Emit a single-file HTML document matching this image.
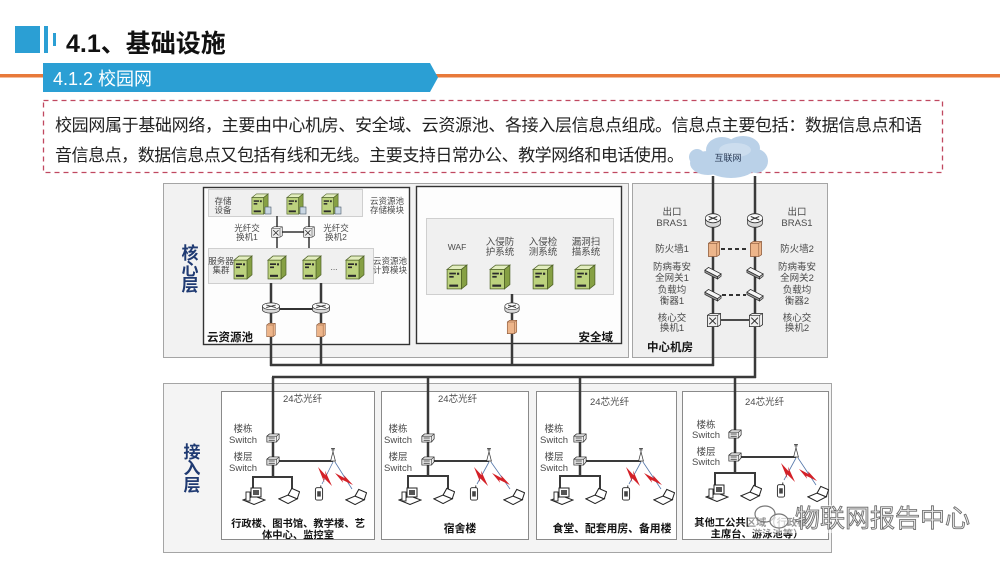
<!DOCTYPE html>
<html><head><meta charset="utf-8">
<style>
html,body{margin:0;padding:0;background:#fff;}
body{width:1000px;height:562px;overflow:hidden;}
svg{display:block;}
text{font-family:"Liberation Sans","Noto Sans CJK SC",sans-serif;}
.s{font-size:8.5px;fill:#4a4a4a;}
.m{font-size:9.5px;fill:#4a4a4a;}
.b{font-size:11.5px;font-weight:bold;fill:#151515;}
.bl{font-size:10.8px;font-weight:bold;fill:#151515;}
.bs{font-size:10.3px;font-weight:bold;fill:#151515;}
.v{font-size:17px;font-weight:bold;fill:#1F3A72;}
</style></head><body>
<svg width="1000" height="562" viewBox="0 0 1000 562" xmlns="http://www.w3.org/2000/svg">
<defs>
 <symbol id="srv" viewBox="0 0 20 24" preserveAspectRatio="none">
  <polygon points="1,5 6,1 19,1 14,5" fill="#E2EDBE" stroke="#4f6228" stroke-width="0.7"/>
  <polygon points="14,5 19,1 19,19 14,23" fill="#86A044" stroke="#4f6228" stroke-width="0.7"/>
  <rect x="1" y="5" width="13" height="18" fill="#BCD27E" stroke="#4f6228" stroke-width="0.7"/>
  <rect x="3" y="8" width="6" height="1.6" fill="#2b2b2b"/>
  <rect x="3" y="11" width="4" height="1.6" fill="#2b2b2b"/>
  <rect x="10" y="8" width="2" height="2" fill="#2b2b2b"/>
  <rect x="3" y="19" width="8" height="2" fill="#2b2b2b"/>
 </symbol>
 <symbol id="rt" viewBox="0 0 20 14" preserveAspectRatio="none">
  <path d="M1,5 V9 A9,4 0 0 0 19,9 V5" fill="#d8d8d8" stroke="#333" stroke-width="0.8"/>
  <ellipse cx="10" cy="5" rx="9" ry="4" fill="#fafafa" stroke="#333" stroke-width="0.8"/>
  <path d="M5,3.5 L15,6.5 M5,6.5 L15,3.5" stroke="#333" stroke-width="1"/>
 </symbol>
 <symbol id="sw" viewBox="0 0 16 10" preserveAspectRatio="none">
  <polygon points="1,3 4,0.5 15,0.5 15,6 12,9.5 1,9.5" fill="#eee" stroke="#222" stroke-width="0.8"/>
  <path d="M1,3 H12 L15,0.5 M12,3 V9.5" fill="none" stroke="#222" stroke-width="0.6"/>
  <path d="M3,5 h7 M3,7.5 h7" stroke="#222" stroke-width="0.8"/>
 </symbol>
 <symbol id="cs" viewBox="0 0 16 16" preserveAspectRatio="none">
  <polygon points="1,3 4,1 15,1 15,13 12,15 1,15" fill="#eee" stroke="#222" stroke-width="0.8"/>
  <path d="M1,3 H12 L15,1 M12,3 V15" fill="none" stroke="#222" stroke-width="0.6"/>
  <path d="M3,5.5 L10,12.5 M10,5.5 L3,12.5" stroke="#222" stroke-width="1"/>
 </symbol>
 <symbol id="fw" viewBox="0 0 14 18" preserveAspectRatio="none">
  <polygon points="1,3 4,1 13,1 13,15 10,17 1,17" fill="#EDB58A" stroke="#8B5A3C" stroke-width="0.8"/>
  <path d="M1,3 H10 L13,1 M10,3 V17" fill="none" stroke="#8B5A3C" stroke-width="0.6"/>
 </symbol>
 <symbol id="bar" viewBox="0 0 20 14" preserveAspectRatio="none">
  <polygon points="1,4 1,6.5 15,13.5 15,11" fill="#999" stroke="#222" stroke-width="0.7"/>
  <polygon points="1,4 5,1 19,8 15,11" fill="#f6f6f6" stroke="#222" stroke-width="0.8"/>
  <polygon points="15,11 19,8 19,10.5 15,13.5" fill="#bbb" stroke="#222" stroke-width="0.7"/>
 </symbol>
 <symbol id="pc" viewBox="0 0 24 18" preserveAspectRatio="none">
  <polygon points="1,13 12,9 23,13 12,17.5" fill="#fff" stroke="#222" stroke-width="1"/>
  <rect x="9" y="1" width="10" height="9" fill="#fff" stroke="#222" stroke-width="1"/>
  <rect x="11" y="3" width="6" height="5" fill="#555"/>
  <rect x="4" y="5" width="4" height="9" fill="#fff" stroke="#222" stroke-width="0.9"/>
 </symbol>
 <symbol id="lt" viewBox="0 0 24 18" preserveAspectRatio="none">
  <polygon points="1,12 11,8 21,12 11,17" fill="#fff" stroke="#222" stroke-width="1.1"/>
  <polygon points="11,8 15,1 23.5,4.5 21,12" fill="#fff" stroke="#222" stroke-width="1.1"/>
 </symbol>
 <symbol id="ph" viewBox="0 0 10 18" preserveAspectRatio="none">
  <rect x="1" y="3" width="8" height="14" rx="2" fill="#fff" stroke="#222" stroke-width="1"/>
  <rect x="3" y="7" width="4" height="6" fill="#444"/>
  <path d="M7,3 V0.5" stroke="#222" stroke-width="1"/>
 </symbol>
 <symbol id="ap" viewBox="0 0 10 16" preserveAspectRatio="none">
  <polygon points="5,5 8,15 2,15" fill="#fff" stroke="#333" stroke-width="0.9"/>
  <path d="M5,5 V1.5 M2.5,1.5 h5 M3,3 h4" stroke="#333" stroke-width="0.8"/>
 </symbol>
 <symbol id="bolt" viewBox="0 0 20 16" preserveAspectRatio="none">
  <polygon points="0,0 11,7 10,3 20,16 8,9 9,13" fill="#D42027"/>
 </symbol>
</defs>

<!-- Header -->
<rect x="15" y="26" width="25" height="27" fill="#2B9FD4"/>
<rect x="44" y="26" width="4" height="27" fill="#2B9FD4"/>
<rect x="53" y="33" width="3" height="13" fill="#2B9FD4"/>
<text x="66" y="52" style="font-size:25px;font-weight:bold;fill:#111;">4.1、基础设施</text>
<rect x="0" y="74" width="1000" height="3.5" fill="#E8793A"/>
<polygon points="43,63 430,63 438,77.5 430,92 43,92" fill="#2B9FD4"/>
<text x="53" y="85" style="font-size:18px;fill:#fff;">4.1.2 校园网</text>

<!-- Dashed text box -->
<rect x="43.5" y="100.5" width="899" height="72" fill="none" stroke="#C04860" stroke-width="1.3" stroke-dasharray="5,4"/>
<text x="55" y="131" textLength="867" lengthAdjust="spacing" style="font-size:17px;fill:#222;">校园网属于基础网络，主要由中心机房、安全域、云资源池、各接入层信息点组成。信息点主要包括：数据信息点和语</text>
<text x="55" y="161" textLength="629" lengthAdjust="spacing" style="font-size:17px;fill:#222;">音信息点，数据信息点又包括有线和无线。主要支持日常办公、教学网络和电话使用。</text>

<!-- Core layer boxes -->
<rect x="163.5" y="183.5" width="465" height="174" fill="#F2F2F2" stroke="#A5A5A5" stroke-width="1"/>
<rect x="632.5" y="183.5" width="195" height="174" fill="#EFEFEF" stroke="#A5A5A5" stroke-width="1"/>
<rect x="203.5" y="187.5" width="206" height="157" fill="#FDFDFD" stroke="#333" stroke-width="1.4"/>
<rect x="416.5" y="186.5" width="205" height="157" fill="#FDFDFD" stroke="#333" stroke-width="1.4"/>
<rect x="208.5" y="189.5" width="154" height="27" fill="#F0F0F0" stroke="#cfcfcf" stroke-width="1"/>
<rect x="208.5" y="248.5" width="165" height="35" fill="#F0F0F0" stroke="#cfcfcf" stroke-width="1"/>
<rect x="426.5" y="218.5" width="187" height="76" fill="#F0F0F0" stroke="#cfcfcf" stroke-width="1"/>

<text x="190" y="259" text-anchor="middle" class="v">核</text>
<text x="190" y="275" text-anchor="middle" class="v">心</text>
<text x="190" y="291" text-anchor="middle" class="v">层</text>

<!-- Cloud pool internals -->
<g stroke="#333" stroke-width="1.5">
 <line x1="277" y1="216" x2="277" y2="248"/>
 <line x1="309" y1="216" x2="309" y2="248"/>
 <line x1="277" y1="232" x2="309" y2="232"/>
</g>
<use href="#srv" x="251" y="193" width="18" height="22"/>
<use href="#srv" x="286" y="193" width="18" height="22"/>
<use href="#srv" x="321" y="193" width="18" height="22"/>
<g fill="#C9D6E3" stroke="#4a5a6a" stroke-width="0.6">
 <rect x="265" y="207" width="6" height="7"/>
 <rect x="300" y="207" width="6" height="7"/>
 <rect x="335" y="207" width="6" height="7"/>
</g>
<use href="#cs" x="271" y="226" width="12" height="12"/>
<use href="#cs" x="303" y="226" width="12" height="12"/>
<text x="223" y="204" text-anchor="middle" class="s">存储</text>
<text x="223" y="213" text-anchor="middle" class="s">设备</text>
<text x="387" y="204" text-anchor="middle" class="s">云资源池</text>
<text x="387" y="213" text-anchor="middle" class="s">存储模块</text>
<text x="247" y="231" text-anchor="middle" class="s">光纤交</text>
<text x="247" y="240" text-anchor="middle" class="s">换机1</text>
<text x="336" y="231" text-anchor="middle" class="s">光纤交</text>
<text x="336" y="240" text-anchor="middle" class="s">换机2</text>
<use href="#srv" x="233" y="255" width="20" height="25"/>
<use href="#srv" x="267" y="255" width="20" height="25"/>
<use href="#srv" x="302" y="255" width="20" height="25"/>
<use href="#srv" x="345" y="255" width="20" height="25"/>
<text x="334" y="270" text-anchor="middle" class="s">...</text>
<text x="221" y="264" text-anchor="middle" class="s">服务器</text>
<text x="221" y="273" text-anchor="middle" class="s">集群</text>
<text x="390" y="264" text-anchor="middle" class="s">云资源池</text>
<text x="390" y="273" text-anchor="middle" class="s">计算模块</text>
<text x="207" y="341" class="b">云资源池</text>

<!-- Security domain internals -->
<text x="457" y="250" text-anchor="middle" class="s">WAF</text>
<text x="500" y="245" text-anchor="middle" class="m">入侵防</text>
<text x="500" y="255" text-anchor="middle" class="m">护系统</text>
<text x="543" y="245" text-anchor="middle" class="m">入侵检</text>
<text x="543" y="255" text-anchor="middle" class="m">测系统</text>
<text x="586" y="245" text-anchor="middle" class="m">漏洞扫</text>
<text x="586" y="255" text-anchor="middle" class="m">描系统</text>
<use href="#srv" x="446" y="264" width="22" height="26"/>
<use href="#srv" x="489" y="264" width="22" height="26"/>
<use href="#srv" x="532" y="264" width="22" height="26"/>
<use href="#srv" x="574" y="264" width="22" height="26"/>
<text x="613" y="341" text-anchor="end" class="b">安全域</text>

<!-- Center room labels -->
<g>
 <text x="672" y="215" class="m" text-anchor="middle">出口</text>
 <text x="672" y="226" class="m" text-anchor="middle">BRAS1</text>
 <text x="672" y="252" class="m" text-anchor="middle">防火墙1</text>
 <text x="672" y="270" class="m" text-anchor="middle">防病毒安</text>
 <text x="672" y="281" class="m" text-anchor="middle">全网关1</text>
 <text x="672" y="293" class="m" text-anchor="middle">负载均</text>
 <text x="672" y="304" class="m" text-anchor="middle">衡器1</text>
 <text x="672" y="321" class="m" text-anchor="middle">核心交</text>
 <text x="672" y="331" class="m" text-anchor="middle">换机1</text>
 <text x="797" y="215" class="m" text-anchor="middle">出口</text>
 <text x="797" y="226" class="m" text-anchor="middle">BRAS1</text>
 <text x="797" y="252" class="m" text-anchor="middle">防火墙2</text>
 <text x="797" y="270" class="m" text-anchor="middle">防病毒安</text>
 <text x="797" y="281" class="m" text-anchor="middle">全网关2</text>
 <text x="797" y="293" class="m" text-anchor="middle">负载均</text>
 <text x="797" y="304" class="m" text-anchor="middle">衡器2</text>
 <text x="797" y="321" class="m" text-anchor="middle">核心交</text>
 <text x="797" y="331" class="m" text-anchor="middle">换机2</text>
</g>
<text x="647" y="351" class="b">中心机房</text>

<!-- Access layer boxes -->
<rect x="163.5" y="383.5" width="668" height="169" fill="#F4F4F4" stroke="#A5A5A5" stroke-width="1"/>
<rect x="221.5" y="391.5" width="153" height="148" fill="#fff" stroke="#8a8a8a" stroke-width="1"/>
<rect x="381.5" y="391.5" width="147" height="148" fill="#fff" stroke="#8a8a8a" stroke-width="1"/>
<rect x="536.5" y="391.5" width="140" height="148" fill="#fff" stroke="#8a8a8a" stroke-width="1"/>
<rect x="682.5" y="391.5" width="146" height="148" fill="#fff" stroke="#8a8a8a" stroke-width="1"/>
<text x="192" y="458" text-anchor="middle" class="v">接</text>
<text x="192" y="474" text-anchor="middle" class="v">入</text>
<text x="192" y="491" text-anchor="middle" class="v">层</text>

<!-- Cloud -->
<g fill="#BAD1E8">
 <ellipse cx="708" cy="163" rx="18" ry="12"/>
 <ellipse cx="722" cy="150" rx="16" ry="13"/>
 <ellipse cx="743" cy="148" rx="17" ry="12"/>
 <ellipse cx="756" cy="161" rx="12" ry="12"/>
 <ellipse cx="731" cy="167" rx="24" ry="11"/>
 <ellipse cx="697" cy="157" rx="8" ry="8"/>
</g>
<ellipse cx="735" cy="150" rx="16" ry="7" fill="#D4E3F1" opacity="0.7"/>
<text x="728" y="161" text-anchor="middle" style="font-size:9px;fill:#2a3a55;">互联网</text>

<!-- Main trunk lines -->
<g stroke="#3a3a3a" stroke-width="2.5" fill="none">
 <line x1="713" y1="176" x2="713" y2="366"/>
 <line x1="755" y1="176" x2="755" y2="378"/>
 <line x1="271" y1="283" x2="271" y2="366"/>
 <line x1="321" y1="283" x2="321" y2="366"/>
 <line x1="512" y1="294" x2="512" y2="366"/>
 <line x1="270" y1="365" x2="714" y2="365"/>
 <line x1="272" y1="377" x2="756" y2="377"/>
 <line x1="273" y1="377" x2="273" y2="477"/>
 <line x1="428" y1="377" x2="428" y2="477"/>
 <line x1="580" y1="377" x2="580" y2="477"/>
 <line x1="735" y1="377" x2="735" y2="473"/>
</g>
<line x1="271" y1="309" x2="321" y2="309" stroke="#333" stroke-width="2"/>
<use href="#rt" x="261.5" y="302" width="19" height="12"/>
<use href="#rt" x="311.5" y="302" width="19" height="12"/>
<use href="#fw" x="266" y="322.5" width="10" height="15"/>
<use href="#fw" x="316" y="322.5" width="10" height="15"/>
<use href="#rt" x="504" y="302" width="16" height="12"/>
<use href="#fw" x="506.5" y="319.5" width="11" height="15"/>

<!-- Center room devices -->
<line x1="721" y1="249" x2="749" y2="249" stroke="#333" stroke-width="2" stroke-dasharray="4,3"/>
<line x1="722" y1="295" x2="746" y2="295" stroke="#333" stroke-width="2" stroke-dasharray="4,3"/>
<line x1="721" y1="320" x2="749" y2="320" stroke="#333" stroke-width="1.8"/>
<use href="#rt" x="704.5" y="212.5" width="17" height="16"/>
<use href="#rt" x="746.5" y="212.5" width="17" height="16"/>
<use href="#fw" x="707.5" y="240.5" width="13" height="17"/>
<use href="#fw" x="749.5" y="240.5" width="13" height="17"/>
<use href="#bar" x="704" y="266.5" width="18" height="13"/>
<use href="#bar" x="746" y="266.5" width="18" height="13"/>
<use href="#bar" x="704" y="288.5" width="18" height="13"/>
<use href="#bar" x="746" y="288.5" width="18" height="13"/>
<use href="#cs" x="706.5" y="312.5" width="15" height="15"/>
<use href="#cs" x="748.5" y="312.5" width="15" height="15"/>

<!-- Access building 1 (X=273) -->
<g>
 <text x="283" y="402" class="m">24芯光纤</text>
 <text x="243" y="432" text-anchor="middle" class="m">楼栋</text>
 <text x="243" y="443" text-anchor="middle" class="m">Switch</text>
 <text x="243" y="460" text-anchor="middle" class="m">楼层</text>
 <text x="243" y="471" text-anchor="middle" class="m">Switch</text>
 <g stroke="#3a3a3a" stroke-width="2" fill="none">
  <line x1="273" y1="461" x2="333" y2="461"/>
  <line x1="253" y1="477" x2="292" y2="477"/>
  <line x1="253" y1="476" x2="253" y2="489"/>
  <line x1="292" y1="476" x2="292" y2="489"/>
 </g>
 <g stroke="#5577aa" stroke-width="0.8"><line x1="333" y1="462" x2="322" y2="484"/><line x1="335" y1="462" x2="352" y2="489"/></g>
 <use href="#sw" x="266" y="433.5" width="14" height="9"/>
 <use href="#sw" x="266" y="456.5" width="14" height="9"/>
 <use href="#ap" x="329" y="447" width="8" height="15"/>
 <use href="#bolt" x="318" y="467" width="14" height="19"/>
 <use href="#bolt" x="335" y="473" width="18" height="12"/>
 <use href="#pc" x="242" y="487" width="24" height="18"/>
 <use href="#lt" x="278" y="487.5" width="22" height="17"/>
 <use href="#ph" x="314.5" y="485" width="9" height="16"/>
 <use href="#lt" x="345" y="488.5" width="22" height="17"/>
 <text x="298" y="527" text-anchor="middle" class="bs">行政楼、图书馆、教学楼、艺</text>
 <text x="298" y="538.5" text-anchor="middle" class="bs">体中心、监控室</text>
</g>

<!-- Access building 2 (X=428) -->
<g>
 <text x="438" y="402" class="m">24芯光纤</text>
 <text x="398" y="432" text-anchor="middle" class="m">楼栋</text>
 <text x="398" y="443" text-anchor="middle" class="m">Switch</text>
 <text x="398" y="460" text-anchor="middle" class="m">楼层</text>
 <text x="398" y="471" text-anchor="middle" class="m">Switch</text>
 <g stroke="#3a3a3a" stroke-width="2" fill="none">
  <line x1="428" y1="461" x2="489" y2="461"/>
  <line x1="408" y1="476" x2="448" y2="476"/>
  <line x1="408" y1="475" x2="408" y2="489"/>
  <line x1="448" y1="475" x2="448" y2="489"/>
 </g>
 <g stroke="#5577aa" stroke-width="0.8"><line x1="489" y1="462" x2="477" y2="484"/><line x1="491" y1="462" x2="510" y2="489"/></g>
 <use href="#sw" x="421" y="433.5" width="14" height="9"/>
 <use href="#sw" x="421" y="456.5" width="14" height="9"/>
 <use href="#ap" x="485" y="447" width="8" height="15"/>
 <use href="#bolt" x="474" y="467" width="14" height="19"/>
 <use href="#bolt" x="492" y="473" width="18" height="12"/>
 <use href="#pc" x="398" y="487" width="24" height="18"/>
 <use href="#lt" x="433" y="487.5" width="22" height="17"/>
 <use href="#ph" x="469.5" y="485" width="9" height="16"/>
 <use href="#lt" x="503" y="488.5" width="22" height="17"/>
 <text x="460" y="532" text-anchor="middle" class="bl">宿舍楼</text>
</g>

<!-- Access building 3 (X=580) -->
<g>
 <text x="590" y="405" class="m">24芯光纤</text>
 <text x="554" y="432" text-anchor="middle" class="m">楼栋</text>
 <text x="554" y="443" text-anchor="middle" class="m">Switch</text>
 <text x="554" y="460" text-anchor="middle" class="m">楼层</text>
 <text x="554" y="471" text-anchor="middle" class="m">Switch</text>
 <g stroke="#3a3a3a" stroke-width="2" fill="none">
  <line x1="580" y1="461" x2="641" y2="461"/>
  <line x1="560" y1="476" x2="600" y2="476"/>
  <line x1="560" y1="475" x2="560" y2="489"/>
  <line x1="600" y1="475" x2="600" y2="489"/>
 </g>
 <g stroke="#5577aa" stroke-width="0.8"><line x1="641" y1="462" x2="629" y2="484"/><line x1="643" y1="462" x2="661" y2="489"/></g>
 <use href="#sw" x="573" y="433.5" width="14" height="9"/>
 <use href="#sw" x="573" y="456.5" width="14" height="9"/>
 <use href="#ap" x="637" y="447" width="8" height="15"/>
 <use href="#bolt" x="626" y="467" width="14" height="19"/>
 <use href="#bolt" x="644" y="473" width="18" height="12"/>
 <use href="#pc" x="550" y="487" width="24" height="18"/>
 <use href="#lt" x="585" y="487.5" width="22" height="17"/>
 <use href="#ph" x="621.5" y="485" width="9" height="16"/>
 <use href="#lt" x="653" y="488.5" width="22" height="17"/>
 <text x="612" y="532" text-anchor="middle" class="bl">食堂、配套用房、备用楼</text>
</g>

<!-- Access building 4 (X=735) -->
<g>
 <text x="745" y="405" class="m">24芯光纤</text>
 <text x="706" y="428" text-anchor="middle" class="m">楼栋</text>
 <text x="706" y="438" text-anchor="middle" class="m">Switch</text>
 <text x="706" y="455" text-anchor="middle" class="m">楼层</text>
 <text x="706" y="465" text-anchor="middle" class="m">Switch</text>
 <g stroke="#3a3a3a" stroke-width="2" fill="none">
  <line x1="735" y1="457" x2="796" y2="457"/>
  <line x1="715" y1="473" x2="755" y2="473"/>
  <line x1="715" y1="472" x2="715" y2="486"/>
  <line x1="755" y1="472" x2="755" y2="486"/>
 </g>
 <g stroke="#5577aa" stroke-width="0.8"><line x1="796" y1="458" x2="784" y2="480"/><line x1="798" y1="458" x2="816" y2="485"/></g>
 <use href="#sw" x="728" y="429.5" width="14" height="9"/>
 <use href="#sw" x="728" y="452.5" width="14" height="9"/>
 <use href="#ap" x="792" y="443" width="8" height="15"/>
 <use href="#bolt" x="781" y="463" width="14" height="19"/>
 <use href="#bolt" x="799" y="469" width="18" height="12"/>
 <use href="#pc" x="705" y="484" width="24" height="18"/>
 <use href="#lt" x="740" y="484.5" width="22" height="17"/>
 <use href="#ph" x="776.5" y="482" width="9" height="16"/>
 <use href="#lt" x="807" y="485.5" width="22" height="17"/>
 <text x="756" y="526" text-anchor="middle" class="bs">其他工公共区域（行政楼、</text>
 <text x="757" y="537.5" text-anchor="middle" class="bs">主席台、游泳池等）</text>
</g>

<!-- Watermark -->
<rect x="748" y="505" width="222" height="28" rx="10" fill="#fff" opacity="0.55"/>
<g fill="none" stroke="#777" stroke-width="1.2">
 <ellipse cx="765" cy="514" rx="10" ry="8"/>
 <ellipse cx="779" cy="521" rx="9" ry="7" fill="#fff" fill-opacity="0.6"/>
</g>
<text x="795" y="527" style="font-size:25px;fill:#eaeaea;stroke:#666;stroke-width:0.8;">物联网报告中心</text>
</svg>
</body></html>
